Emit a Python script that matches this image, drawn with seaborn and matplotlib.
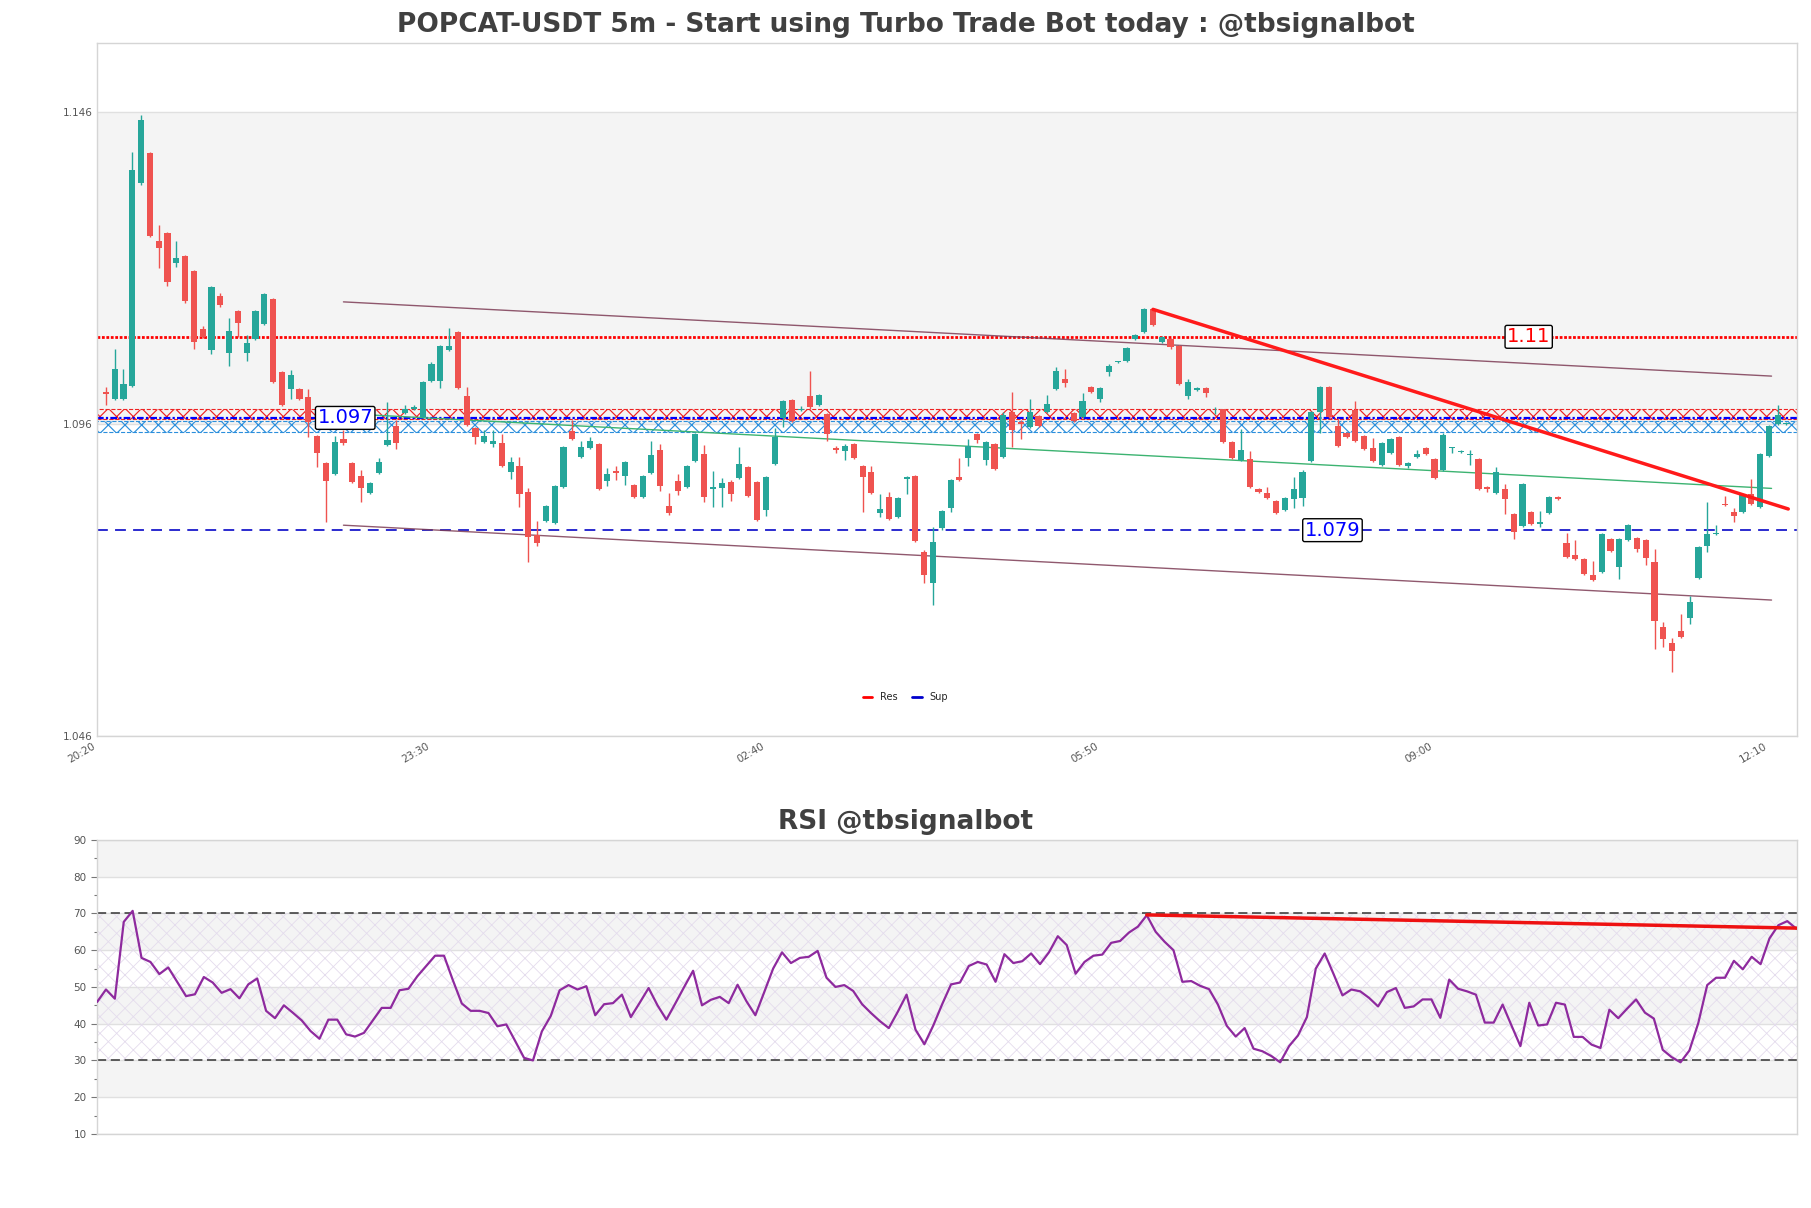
import numpy as np
import pandas as pd
import matplotlib
matplotlib.use("Agg")
import matplotlib.pyplot as plt
import seaborn as sns
from matplotlib.lines import Line2D
from matplotlib.ticker import MultipleLocator

sns.set_theme(style="white")
plt.rcParams['font.family'] = ['DejaVu Sans']
plt.rcParams['hatch.linewidth'] = 0.6

# ---------- 5m candles (open / high / low / close) ----------
opens = [1.1011, 1.1000, 1.1000, 1.1021, 1.1346, 1.1394, 1.1253, 1.1266, 1.1218, 1.1229,
         1.1205, 1.1112, 1.1079, 1.1165, 1.1074, 1.1141, 1.1074, 1.1096, 1.1120, 1.1160,
         1.1043, 1.1016, 1.1016, 1.1003, 1.0941, 1.0898, 1.0880, 1.0936, 1.0898, 1.0877,
         1.0849, 1.0882, 1.0926, 1.0957, 1.0978, 1.0984, 1.0971, 1.1029, 1.1029, 1.1079,
         1.1107, 1.1005, 1.0954, 1.0931, 1.0928, 1.0930, 1.0883, 1.0893, 1.0851, 1.0782,
         1.0805, 1.0802, 1.0859, 1.0949, 1.0907, 1.0922, 1.0928, 1.0869, 1.0885, 1.0877,
         1.0862, 1.0843, 1.0882, 1.0918, 1.0829, 1.0869, 1.0859, 1.0901, 1.0912, 1.0856,
         1.0858, 1.0867, 1.0874, 1.0891, 1.0867, 1.0822, 1.0896, 1.0970, 1.0999, 1.0982,
         1.1005, 1.0990, 1.0976, 1.0922, 1.0917, 1.0928, 1.0893, 1.0883, 1.0817, 1.0843,
         1.0811, 1.0872, 1.0877, 1.0755, 1.0705, 1.0793, 1.0825, 1.0875, 1.0906, 1.0944,
         1.0902, 1.0928, 1.0907, 1.0979, 1.0963, 1.0955, 1.0973, 1.0979, 1.1016, 1.1032,
         1.0978, 1.0971, 1.1019, 1.1001, 1.1043, 1.1059, 1.1061, 1.1096, 1.1107, 1.1144,
         1.1091, 1.1096, 1.1085, 1.1005, 1.1015, 1.1018, 1.0984, 1.0984, 1.0931, 1.0902,
         1.0904, 1.0856, 1.0849, 1.0837, 1.0822, 1.0840, 1.0841, 1.0901, 1.0979, 1.1019,
         1.0957, 1.0946, 1.0982, 1.0941, 1.0922, 1.0894, 1.0914, 1.0939, 1.0893, 1.0907,
         1.0922, 1.0904, 1.0886, 1.0922, 1.0915, 1.0910, 1.0904, 1.0859, 1.0849, 1.0856,
         1.0816, 1.0797, 1.0819, 1.0800, 1.0817, 1.0843, 1.0769, 1.0750, 1.0744, 1.0718,
         1.0723, 1.0776, 1.0731, 1.0774, 1.0777, 1.0774, 1.0739, 1.0635, 1.0609, 1.0628,
         1.0649, 1.0713, 1.0764, 1.0784, 1.0832, 1.0819, 1.0819, 1.0848, 1.0827, 1.0909,
         1.0960, 1.0960]
highs = [1.1019, 1.1080, 1.1048, 1.1396, 1.1455, 1.1396, 1.1279, 1.1268, 1.1253, 1.1231,
         1.1207, 1.1117, 1.1181, 1.1170, 1.1130, 1.1143, 1.1103, 1.1143, 1.1170, 1.1162,
         1.1045, 1.1047, 1.1018, 1.1016, 1.0942, 1.0899, 1.0941, 1.0950, 1.0899, 1.0886,
         1.0867, 1.0906, 1.0995, 1.0967, 1.0990, 1.0990, 1.1029, 1.1059, 1.1087, 1.1114,
         1.1109, 1.1019, 1.0955, 1.0950, 1.0950, 1.0944, 1.0907, 1.0907, 1.0858, 1.0805,
         1.0830, 1.0862, 1.0925, 1.0967, 1.0933, 1.0939, 1.0930, 1.0890, 1.0893, 1.0901,
         1.0864, 1.0878, 1.0933, 1.0928, 1.0849, 1.0880, 1.0894, 1.0946, 1.0926, 1.0885,
         1.0874, 1.0870, 1.0923, 1.0893, 1.0869, 1.0877, 1.0954, 1.0999, 1.1000, 1.0989,
         1.1045, 1.1008, 1.0978, 1.0925, 1.0928, 1.0930, 1.0894, 1.0893, 1.0848, 1.0851,
         1.0843, 1.0877, 1.0878, 1.0758, 1.0795, 1.0822, 1.0872, 1.0906, 1.0936, 1.0946,
         1.0933, 1.0930, 1.0979, 1.1011, 1.0967, 1.1000, 1.0974, 1.1006, 1.1051, 1.1048,
         1.0979, 1.1010, 1.1021, 1.1019, 1.1056, 1.1062, 1.1083, 1.1104, 1.1146, 1.1146,
         1.1101, 1.1098, 1.1087, 1.1032, 1.1019, 1.1019, 1.0987, 1.0985, 1.0933, 1.0952,
         1.0917, 1.0858, 1.0859, 1.0838, 1.0843, 1.0875, 1.0886, 1.0981, 1.1021, 1.1021,
         1.0970, 1.0947, 1.0997, 1.0942, 1.0938, 1.0931, 1.0938, 1.0941, 1.0899, 1.0918,
         1.0923, 1.0906, 1.0946, 1.0924, 1.0918, 1.0918, 1.0906, 1.0861, 1.0891, 1.0864,
         1.0817, 1.0866, 1.0821, 1.0821, 1.0845, 1.0845, 1.0785, 1.0774, 1.0745, 1.0740,
         1.0785, 1.0777, 1.0777, 1.0800, 1.0779, 1.0776, 1.0760, 1.0643, 1.0617, 1.0655,
         1.0684, 1.0764, 1.0835, 1.0798, 1.0845, 1.0825, 1.0848, 1.0872, 1.0914, 1.0958,
         1.0990, 1.0963]
lows = [1.0990, 1.0998, 1.0998, 1.1019, 1.1344, 1.1260, 1.1210, 1.1181, 1.1212, 1.1155,
        1.1080, 1.1098, 1.1072, 1.1148, 1.1053, 1.1099, 1.1061, 1.1095, 1.1119, 1.1026,
        1.0989, 1.1001, 1.0998, 1.0939, 1.0891, 1.0803, 1.0878, 1.0926, 1.0866, 1.0835,
        1.0848, 1.0880, 1.0925, 1.0920, 1.0976, 1.0982, 1.0970, 1.1027, 1.1018, 1.1077,
        1.1016, 1.0957, 1.0928, 1.0930, 1.0923, 1.0891, 1.0872, 1.0827, 1.0739, 1.0765,
        1.0803, 1.0800, 1.0858, 1.0934, 1.0906, 1.0920, 1.0854, 1.0861, 1.0870, 1.0862,
        1.0841, 1.0841, 1.0880, 1.0853, 1.0814, 1.0846, 1.0858, 1.0899, 1.0835, 1.0827,
        1.0827, 1.0837, 1.0872, 1.0843, 1.0805, 1.0813, 1.0894, 1.0955, 1.0963, 1.0981,
        1.0985, 1.0989, 1.0933, 1.0914, 1.0902, 1.0904, 1.0819, 1.0848, 1.0811, 1.0806,
        1.0809, 1.0848, 1.0771, 1.0705, 1.0670, 1.0790, 1.0819, 1.0869, 1.0893, 1.0930,
        1.0894, 1.0886, 1.0906, 1.0923, 1.0936, 1.0954, 1.0955, 1.0978, 1.1015, 1.1019,
        1.0963, 1.0970, 1.1010, 1.0995, 1.1037, 1.1058, 1.1059, 1.1095, 1.1106, 1.1117,
        1.1090, 1.1080, 1.1023, 1.1001, 1.1013, 1.1003, 1.0976, 1.0930, 1.0904, 1.0901,
        1.0858, 1.0849, 1.0840, 1.0816, 1.0821, 1.0825, 1.0829, 1.0899, 1.0946, 1.0970,
        1.0923, 1.0938, 1.0931, 1.0918, 1.0899, 1.0893, 1.0912, 1.0893, 1.0890, 1.0906,
        1.0910, 1.0872, 1.0885, 1.0914, 1.0914, 1.0894, 1.0854, 1.0851, 1.0848, 1.0816,
        1.0776, 1.0795, 1.0798, 1.0795, 1.0816, 1.0838, 1.0745, 1.0742, 1.0718, 1.0708,
        1.0721, 1.0755, 1.0712, 1.0773, 1.0755, 1.0734, 1.0600, 1.0603, 1.0563, 1.0617,
        1.0640, 1.0712, 1.0755, 1.0782, 1.0829, 1.0803, 1.0817, 1.0830, 1.0825, 1.0907,
        1.0958, 1.0958]
closes = [1.1008, 1.1048, 1.1024, 1.1367, 1.1447, 1.1261, 1.1242, 1.1188, 1.1226, 1.1157,
          1.1091, 1.1099, 1.1180, 1.1151, 1.1109, 1.1122, 1.1090, 1.1141, 1.1168, 1.1027,
          1.0990, 1.1038, 1.1000, 1.0963, 1.0914, 1.0869, 1.0931, 1.0930, 1.0867, 1.0858,
          1.0866, 1.0899, 1.0934, 1.0930, 1.0984, 1.0987, 1.1027, 1.1056, 1.1085, 1.1085,
          1.1018, 1.0958, 1.0939, 1.0941, 1.0933, 1.0893, 1.0899, 1.0848, 1.0779, 1.0769,
          1.0829, 1.0861, 1.0923, 1.0936, 1.0923, 1.0933, 1.0856, 1.0880, 1.0882, 1.0899,
          1.0843, 1.0877, 1.0910, 1.0861, 1.0817, 1.0853, 1.0893, 1.0944, 1.0843, 1.0859,
          1.0866, 1.0848, 1.0896, 1.0845, 1.0806, 1.0875, 1.0939, 1.0997, 1.0965, 1.0985,
          1.0987, 1.1006, 1.0944, 1.0918, 1.0925, 1.0906, 1.0875, 1.0849, 1.0824, 1.0808,
          1.0841, 1.0875, 1.0773, 1.0718, 1.0771, 1.0821, 1.0870, 1.0870, 1.0925, 1.0934,
          1.0931, 1.0888, 1.0974, 1.0950, 1.0960, 1.0979, 1.0957, 1.0992, 1.1045, 1.1026,
          1.0965, 1.0997, 1.1011, 1.1018, 1.1054, 1.1061, 1.1082, 1.1103, 1.1144, 1.1119,
          1.1099, 1.1083, 1.1024, 1.1027, 1.1018, 1.1010, 1.0985, 1.0931, 1.0906, 1.0918,
          1.0859, 1.0851, 1.0841, 1.0817, 1.0841, 1.0856, 1.0883, 1.0979, 1.1019, 1.0971,
          1.0925, 1.0939, 1.0933, 1.0920, 1.0901, 1.0930, 1.0936, 1.0894, 1.0898, 1.0912,
          1.0912, 1.0874, 1.0942, 1.0923, 1.0917, 1.0912, 1.0856, 1.0856, 1.0883, 1.0840,
          1.0787, 1.0864, 1.0800, 1.0803, 1.0843, 1.0840, 1.0747, 1.0744, 1.0719, 1.0710,
          1.0784, 1.0757, 1.0776, 1.0798, 1.0760, 1.0745, 1.0644, 1.0615, 1.0596, 1.0619,
          1.0675, 1.0763, 1.0784, 1.0785, 1.0830, 1.0813, 1.0846, 1.0832, 1.0912, 1.0957,
          1.0974, 1.0962]

# ---------- RSI ----------
rsi = [45.9, 49.3, 46.8, 67.7, 70.7, 57.9, 56.8, 53.5, 55.3, 51.4,
       47.5, 48.0, 52.7, 51.2, 48.4, 49.4, 46.9, 50.7, 52.3, 43.5,
       41.5, 45.0, 43.0, 40.9, 38.0, 35.9, 41.1, 41.1, 37.1, 36.5,
       37.5, 40.9, 44.3, 44.3, 49.1, 49.5, 52.9, 55.7, 58.5, 58.5,
       51.8, 45.5, 43.5, 43.5, 42.9, 39.3, 39.8, 35.3, 30.7, 30.0,
       37.9, 42.1, 49.1, 50.5, 49.3, 50.2, 42.3, 45.3, 45.6, 47.9,
       41.8, 45.7, 49.7, 45.0, 41.1, 45.5, 50.0, 54.4, 45.0, 46.5,
       47.3, 45.6, 50.6, 46.1, 42.3, 48.6, 55.0, 59.4, 56.5, 57.9,
       58.2, 59.8, 52.5, 50.0, 50.5, 48.9, 45.3, 42.9, 40.7, 38.8,
       43.2, 47.9, 38.4, 34.4, 39.5, 45.3, 50.7, 51.2, 55.7, 56.8,
       56.1, 51.4, 58.9, 56.5, 57.0, 59.1, 56.2, 59.4, 63.8, 61.4,
       53.6, 56.8, 58.5, 58.8, 62.0, 62.5, 64.8, 66.4, 69.5, 65.0,
       62.3, 60.0, 51.4, 51.6, 50.3, 49.4, 45.2, 39.4, 36.5, 38.8,
       33.2, 32.5, 31.2, 29.5, 33.9, 36.8, 41.8, 55.0, 59.1, 53.5,
       47.7, 49.3, 48.8, 47.0, 44.7, 48.6, 49.7, 44.3, 44.7, 46.6,
       46.6, 41.6, 52.0, 49.5, 48.8, 47.9, 40.3, 40.3, 45.2, 39.5,
       33.9, 45.7, 39.5, 39.8, 45.7, 45.2, 36.4, 36.4, 34.3, 33.4,
       43.8, 41.5, 44.1, 46.6, 43.0, 41.4, 32.9, 30.9, 29.5, 32.7,
       40.2, 50.5, 52.5, 52.5, 57.1, 54.8, 58.2, 56.2, 63.2, 66.8,
       67.9, 65.9]

# ---------- levels and lines ----------
res_level = 1.11
sup_level = 1.097
sup_level2 = 1.079
res_zone = (1.0968, 1.0985)
sup_zone = (1.0947, 1.0965)
chan_x = [28, 190.3]
chan_upper = [1.1156, 1.1037]
chan_mid = [1.0977, 1.0857]
chan_lower = [1.0798, 1.0678]
trend_x = [120, 192.2]
trend_y = [1.1144, 1.0824]
rsi_trend_x = [118, 191.1]
rsi_trend_y = [69.6, 66.0]

label_text = ['1.097', '1.079', '1.11']
label_price = [1.097, 1.079, 1.11]
label_x = [28.2, 140.4, 162.7]
label_color = ['blue', 'blue', 'red']

price_ticks = [1.046, 1.096, 1.146]
time_ticks = [0, 38, 76, 114, 152, 190]
time_labels = ['20:20', '23:30', '02:40', '05:50', '09:00', '12:10']

title_main = 'POPCAT-USDT 5m - Start using Turbo Trade Bot today : @tbsignalbot'
title_rsi = 'RSI @tbsignalbot'

df = pd.DataFrame({'open': opens, 'high': highs, 'low': lows, 'close': closes})
df['x'] = np.arange(1, len(df) + 1)
up = df['close'] >= df['open']
col = np.where(up, '#26a69a', '#ef5350')
body_lo = df[['open', 'close']].min(axis=1)
body_h = (df['close'] - df['open']).abs().clip(lower=0.00006)

AX_LEFT, AX_W = 0.0536, 0.9387
fig = plt.figure(figsize=(18.11, 12.08), dpi=100)
ax = fig.add_axes([AX_LEFT, 0.3907, AX_W, 0.5737])
ax2 = fig.add_axes([AX_LEFT, 0.0613, AX_W, 0.2434])
mid_x = (0.5 - AX_LEFT) / AX_W   # figure centre in axes coordinates

# ========== price panel ==========
ax.axhspan(price_ticks[1], price_ticks[2], color='#f4f4f4', lw=0, zorder=0)
for p in price_ticks:
    ax.axhline(p, color='#e0e0e0', lw=1, zorder=0.5)

# resistance / support zones (hatched)
with plt.rc_context({'hatch.linewidth': 0.85}):
    ax.axhspan(*res_zone, facecolor='none', edgecolor='#ee2222', hatch='xx', lw=0.8, ls='--', zorder=1)
    ax.axhspan(*sup_zone, facecolor='none', edgecolor='#2b8fdc', hatch='xx', lw=0.8, ls='--', zorder=1)
ax.axhline(res_level, color='red', lw=2, ls=(0, (1, 0.6)), zorder=2)
ax.axhline(sup_level, color='blue', lw=1.6, ls=(0, (3, 1, 1, 1)), zorder=2)
ax.axhline(sup_level2, color='#1a1acc', lw=1.3, ls=(0, (6, 4)), zorder=2)

ax.plot(chan_x, chan_upper, color='#7d3c55', lw=1, alpha=0.85, zorder=2)
ax.plot(chan_x, chan_lower, color='#7d3c55', lw=1, alpha=0.85, zorder=2)
ax.plot(chan_x, chan_mid, color='#3cb371', lw=1, zorder=2)

ax.vlines(df['x'], df['low'], df['high'], colors=col, lw=1, zorder=3)
ax.bar(df['x'], body_h, bottom=body_lo, width=0.7, color=col, lw=0, zorder=4)

ax.plot(trend_x, trend_y, color='#ff1a1a', lw=2.5, zorder=5)

for t, p, x, c in zip(label_text, label_price, label_x, label_color):
    ax.text(x, p, t, color=c, fontsize=14, ha='center', va='center', zorder=6,
            bbox=dict(boxstyle='round,pad=0.1', fc='white', ec='black', lw=1))

handles = [Line2D([], [], color='red', lw=2), Line2D([], [], color='#0000cc', lw=2)]
ax.legend(handles, ['Res', 'Sup'], loc='center', bbox_to_anchor=(mid_x, 0.056),
          ncol=2, frameon=False, fontsize=7, handlelength=1.0, columnspacing=1.5)

ax.set_xlim(0, 193.2)
ax.set_ylim(1.046, 1.1571)
ax.set_yticks(price_ticks)
ax.set_yticklabels([f'{p:.3f}' for p in price_ticks])
ax.set_xticks(time_ticks)
ax.set_xticklabels(time_labels, rotation=30, ha='right')
ax.tick_params(labelsize=7.5, colors='#555555', length=0)
for s in ax.spines.values():
    s.set_color('#d5d5d5')
    s.set_linewidth(1)
ax.set_title(title_main, fontsize=19, fontweight='bold', color='#404040', pad=8, x=mid_x)

# ========== RSI panel ==========
for lo in [20, 40, 60, 80]:
    ax2.axhspan(lo, lo + 10, color='#f4f4f4', lw=0, zorder=0)
for v in range(10, 91, 10):
    ax2.axhline(v, color='#e0e0e0', lw=1, zorder=0.5)
ax2.axhspan(30, 70, facecolor='none', edgecolor='#e4dced', hatch='xx', lw=0, zorder=1)
ax2.axhline(70, color='#333333', lw=1.1, ls=(0, (6, 3)), zorder=2)
ax2.axhline(30, color='#333333', lw=1.1, ls=(0, (6, 3)), zorder=2)

sns.lineplot(x=np.arange(len(rsi)), y=rsi, ax=ax2, color='#8e2a9e', lw=1.6, zorder=3)
ax2.plot(rsi_trend_x, rsi_trend_y, color='#ee1111', lw=2.5, zorder=4)

ax2.set_xlim(0, 191.1)
ax2.set_ylim(10, 90)
ax2.set_yticks(range(10, 91, 10))
ax2.yaxis.set_minor_locator(MultipleLocator(5))
ax2.set_xticks([])
ax2.tick_params(axis='y', which='major', left=True, length=4, width=0.8, color='#777777',
                labelsize=7.5, labelcolor='#555555')
ax2.tick_params(axis='y', which='minor', left=True, length=2, width=0.8, color='#777777')
for s in ax2.spines.values():
    s.set_color('#d5d5d5')
    s.set_linewidth(1)
ax2.set_title(title_rsi, fontsize=19, fontweight='bold', color='#404040', pad=8, x=mid_x)

fig.savefig('out.png', dpi=100)
